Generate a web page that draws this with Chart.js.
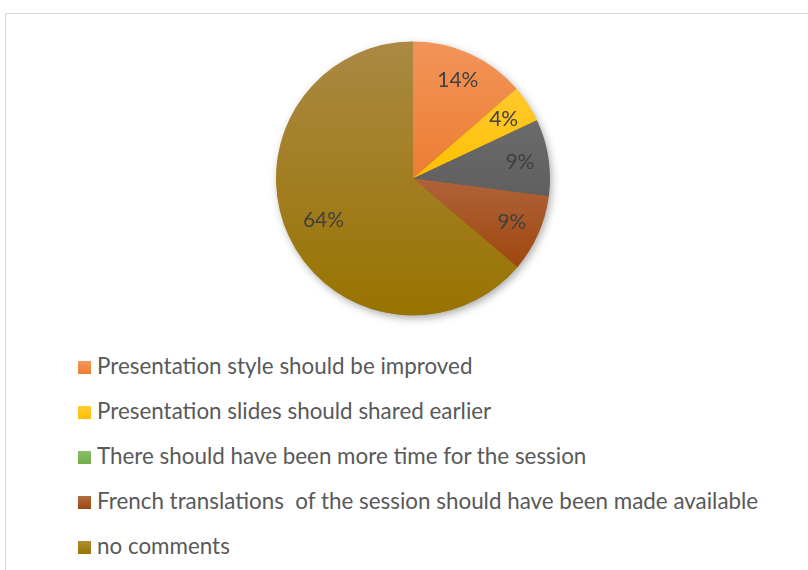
<!DOCTYPE html>
<html>
<head>
<meta charset="utf-8">
<script src="https://cdn.jsdelivr.net/npm/chart.js@4.4.1/dist/chart.umd.min.js"></script>
<style>
    html, body { margin: 0; padding: 0; background: #fff; width: 808px; height: 570px; overflow: hidden; }
    #marco { position: absolute; left: 5px; top: 13px; width: 900px; height: 700px;
             border-top: 1px solid #d9d9d9; border-left: 1px solid #d9d9d9; }
    #grafico { position: absolute; left: 5px; top: 13px; width: 803px; height: 320px; }
    #leyenda { position: absolute; left: 78px; top: 343px; font-family: Lato, sans-serif;
               font-size: 22.4px; color: #595959; }
    #leyenda div { height: 45px; line-height: 45px; white-space: pre; }
    #leyenda span { display: inline-block; width: 13px; height: 13px; margin-right: 6px; vertical-align: 0px; }
</style>
</head>
<body>
<div id="marco"></div>
<div id="grafico"><canvas id="graficoComentarios"></canvas></div>
<div id="leyenda"></div>
<script>
// Datos del gráfico (porcentaje de respuestas)
const categorias = [
    "Presentation style should be improved",
    "Presentation slides should shared earlier",
    "There should have been more time for the session",
    "French translations  of the session should have been made available",
    "no comments"
];
const respuestas = [13.6, 4.4, 9.1, 9.1, 63.8];

// Colores (el tercer sector sale gris en la torta pero verde en la leyenda)
const coloresSector = ["#ED7D31", "#FFC000", "#5F5F5F", "#9E480E", "#997300"];
const coloresClaros = ["#F2945A", "#FFC92E", "#6B6B6B", "#B0623A", "#AA8944"];
const coloresLeyenda = ["#ED7D31", "#FFC000", "#70AD47", "#9E480E", "#997300"];

// Sombra, degradado y etiquetas de porcentaje
const pluginTorta = {
    id: "pluginTorta",
    beforeDatasetsDraw(chart) {
        const ctx = chart.ctx;
        const arcos = chart.getDatasetMeta(0).data;
        if (!arcos.length) return;
        const a0 = arcos[0];
        ctx.save();
        ctx.shadowColor = "rgba(0,0,0,0.35)";
        ctx.shadowBlur = 8;
        ctx.shadowOffsetX = 2;
        ctx.shadowOffsetY = 3;
        ctx.fillStyle = "#997300";
        ctx.beginPath();
        ctx.arc(a0.x, a0.y, a0.outerRadius - 0.5, 0, Math.PI * 2);
        ctx.fill();
        ctx.restore();

        arcos.forEach((arco, i) => {
            let yMin = arco.y, yMax = arco.y;
            for (let k = 0; k <= 40; k++) {
                const ang = arco.startAngle + (arco.endAngle - arco.startAngle) * k / 40;
                const y = arco.y + Math.sin(ang) * arco.outerRadius;
                yMin = Math.min(yMin, y);
                yMax = Math.max(yMax, y);
            }
            const g = ctx.createLinearGradient(0, yMin, 0, yMax);
            g.addColorStop(0, coloresClaros[i]);
            g.addColorStop(1, coloresSector[i]);
            arco.options.backgroundColor = g;
        });
    },
    afterDatasetsDraw(chart) {
        const ctx = chart.ctx;
        const datos = chart.data.datasets[0].data;
        const total = datos.reduce((s, v) => s + v, 0);
        ctx.save();
        ctx.font = "21px Lato, sans-serif";
        ctx.fillStyle = "#404040";
        ctx.textAlign = "center";
        ctx.textBaseline = "middle";
        chart.getDatasetMeta(0).data.forEach((arco, i) => {
            const medio = (arco.startAngle + arco.endAngle) / 2;
            const dist = arco.outerRadius * (datos[i] / total > 0.5 ? 0.72 : 0.79);
            const x = arco.x + Math.cos(medio) * dist;
            const y = arco.y + Math.sin(medio) * dist;
            ctx.fillText(Math.round(datos[i] / total * 100) + "%", x, y);
        });
        ctx.restore();
    }
};

function dibujarGrafico() {
    new Chart(document.getElementById("graficoComentarios"), {
        type: "pie",
        data: {
            labels: categorias,
            datasets: [{
                data: respuestas,
                backgroundColor: coloresSector,
                borderWidth: 0,
                hoverOffset: 0,
                offset: 0
            }]
        },
        options: {
            responsive: true,
            maintainAspectRatio: false,
            animation: false,
            layout: { padding: { top: 28.5, bottom: 17.5, left: 13, right: 0 } },
            plugins: {
                legend: { display: false },
                tooltip: { enabled: false }
            }
        },
        plugins: [pluginTorta]
    });

    const leyenda = document.getElementById("leyenda");
    categorias.forEach((texto, i) => {
        const fila = document.createElement("div");
        const caja = document.createElement("span");
        caja.style.background = "linear-gradient(" + coloresLeyenda[i] + "cc, " + coloresLeyenda[i] + ")";
        fila.appendChild(caja);
        fila.appendChild(document.createTextNode(texto));
        leyenda.appendChild(fila);
    });
}

document.addEventListener("DOMContentLoaded", dibujarGrafico);
</script>
</body>
</html>
